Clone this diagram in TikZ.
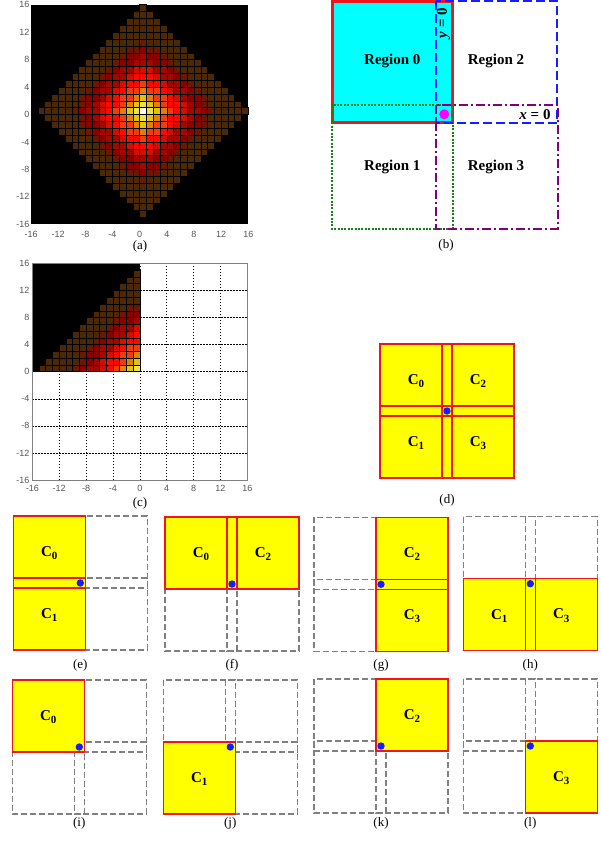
\documentclass[tikz,border=0pt]{standalone}
\usepackage{fontspec}
\setmainfont{Liberation Serif}
\newfontfamily\tickfont{Liberation Sans}
\definecolor{col0}{RGB}{255,255,255}
\definecolor{col1}{RGB}{234,226,72}
\definecolor{col2}{RGB}{226,194,16}
\definecolor{col3}{RGB}{226,128,0}
\definecolor{col4}{RGB}{240,60,16}
\definecolor{col5}{RGB}{255,8,0}
\definecolor{col6}{RGB}{208,16,0}
\definecolor{col7}{RGB}{160,8,0}
\definecolor{col8}{RGB}{140,0,0}
\definecolor{col9}{RGB}{106,24,4}
\definecolor{col10}{RGB}{74,40,8}
\definecolor{tickgray}{RGB}{85,85,85}
\definecolor{rcyan}{RGB}{0,255,255}
\definecolor{rred}{RGB}{240,20,30}
\definecolor{rblue}{RGB}{20,30,255}
\definecolor{rgreen}{RGB}{20,130,20}
\definecolor{rpurple}{RGB}{128,0,128}
\definecolor{rmag}{RGB}{255,0,255}
\definecolor{ryel}{RGB}{255,255,0}
\definecolor{rgray}{RGB}{128,128,128}
\tikzset{
  ticklab/.style={font=\tickfont\fontsize{9}{10}\selectfont, text=tickgray, inner sep=0pt},
  capt/.style={font=\fontsize{13}{15}\selectfont, inner sep=0pt},
  reglab/.style={font=\bfseries\fontsize{15}{17}\selectfont, inner sep=0pt},
  clab/.style={font=\bfseries\fontsize{15}{17}\selectfont, inner sep=0pt},
  gsq/.style={draw=rgray, line width=1.4pt, dash pattern=on 6pt off 3pt},
  rsq/.style={draw=rred, line width=1.3pt},
  cyel/.style={fill=ryel},
  bdot/.style={fill=rblue},
  cellb/.style={draw=black, line width=0.45pt},
}
\newcommand\csub[1]{\raisebox{-0.22em}{\fontsize{11}{12}\selectfont #1}}
% colour index of a cell from its offset (i,j) to the centre cell
\newcommand\cellidx[2]{%
  \pgfmathsetmacro\vv{0.4*sqrt((#1)*(#1)+(#2)*(#2))+0.6*(abs(#1)+abs(#2))}%
  \pgfmathtruncatemacro\d{(\vv>=0.5)+(\vv>=1.5)+(\vv>=2.5)+(\vv>=3.4)+(\vv>=4.6)+(\vv>=5.8)+(\vv>=7)+(\vv>=8.2)+(\vv>=9.4)+(\vv>=10.5)}%
}
\newcommand\quadpanel[5]{%
  \begin{scope}[shift={(#1pt,-#2pt)}]
    \foreach \c in {0,1,2,3}{%
      \pgfmathsetmacro\dx{62*(\c>1)}%
      \pgfmathsetmacro\dy{62*mod(\c,2)}%
      \draw[gsq] (\dx,\dy) rectangle ++(72,72);}
    \foreach \c in {#3}{%
      \pgfmathsetmacro\dx{62*(\c>1)}%
      \pgfmathsetmacro\dy{62*mod(\c,2)}%
      \fill[cyel] (\dx,\dy) rectangle ++(72,72);}
    \foreach \c in {#3}{%
      \pgfmathsetmacro\dx{62*(\c>1)}%
      \pgfmathsetmacro\dy{62*mod(\c,2)}%
      \draw[rsq] (\dx,\dy) rectangle ++(72,72);
      \node[clab] at (\dx+36,\dy+37) {C\csub{\c}};}
    \fill[bdot] (67,67) circle (3.7pt);
  \end{scope}
  \node[capt] (cap#4) at (#1+67,#5) {(#4)};
}
\begin{document}
\begin{tikzpicture}[x=1pt,y=-1pt]
\useasboundingbox (0,0) rectangle (600,841);
\fill[white] (0,0) rectangle (600,841);

% ---------- (a) ----------
\begin{scope}[shift={(139.65pt,-114.5pt)},x=6.79pt,y=6.8625pt]
  \fill[black] (-16,-16) rectangle (16,16);
  \foreach \i in {-15,...,15}{
    \pgfmathtruncatemacro\m{15-abs(\i)}
    \pgfmathtruncatemacro\mn{-\m}
    \foreach \j in {\mn,...,\m}{
      \cellidx{\i}{\j}
      \filldraw[cellb, fill=col\d] (\i,\j) rectangle ++(1,1);
    }
  }
\end{scope}
\foreach \v in {-16,-12,...,16}{
  \node[ticklab, anchor=east] at (29.5,{114.5-\v*6.8625}) {\v};
  \node[ticklab] at ({139.65+\v*6.79},234) {\v};
}
\node[capt] (capa) at (140,246) {(a)};

% ---------- (b) ----------
\fill[rcyan] (331.7,0) rectangle (452.7,122.7);
\draw[rred, line width=2.6pt] (332.3,1.2) rectangle (452.3,122.7);
\draw[rgreen, line width=2pt, dash pattern=on 2pt off 1.4pt] (331.7,105.3) rectangle (453.3,228.7);
\draw[rblue, line width=2.2pt, dash pattern=on 9pt off 4pt] (435.7,0.9) rectangle (557,122.7);
\draw[rpurple, line width=2.2pt, dash pattern=on 9pt off 3pt on 2pt off 3pt] (435.7,105.3) rectangle (557.7,228.7);
\fill[rmag] (444.3,114.3) circle (5pt);
\node[reglab] (r0) at (392.3,61) {Region 0};
\node[reglab] (r2) at (496,61) {Region 2};
\node[reglab] (r1) at (392.3,166.7) {Region 1};
\node[reglab] (r3) at (496,166.7) {Region 3};
\node[reglab, rotate=90] (ylab) at (443.5,23) {\textit{y} = 0};
\node[reglab] (xlab) at (535,115) {\textit{x} = 0};
\node[capt] (capb) at (446,245) {(b)};

% ---------- (c) ----------
\begin{scope}[shift={(139.8pt,-371.7pt)},x=6.72pt,y=6.77pt]
  \foreach \g in {-12,-8,...,12}{
    \draw[black, line width=0.5pt, dash pattern=on 1.5pt off 1.5pt] (\g,-16) -- (\g,16);
    \draw[black, line width=0.5pt, dash pattern=on 1.5pt off 1.5pt] (-16,\g) -- (16,\g);
  }
  \fill[black] (-16,0) rectangle (0,16);
  \foreach \a in {0,...,14}{
    \pgfmathtruncatemacro\bm{14-\a}
    \foreach \b in {0,...,\bm}{
      \cellidx{\a+1}{\b}
      \filldraw[cellb, fill=col\d] (-\a-1,\b) rectangle ++(1,1);
    }
  }
  \draw[rgray, line width=0.8pt] (-16,-16) rectangle (16,16);
\end{scope}
\foreach \v in {-16,-12,...,16}{
  \node[ticklab, anchor=east] at (29.5,{371.7-\v*6.77}) {\v};
  \node[ticklab] at ({139.8+\v*6.72},488) {\v};
}
\node[capt] (capc) at (140,503) {(c)};

% ---------- (d) - (l) ----------
\quadpanel{380}{344}{0,1,2,3}{d}{500}
\quadpanel{13.3}{516}{0,1}{e}{665}
\quadpanel{165}{517}{0,2}{f}{665}
\quadpanel{314}{517.3}{2,3}{g}{665}
\quadpanel{463.3}{516.7}{1,3}{h}{665}
\quadpanel{12.3}{680}{0}{i}{823}
\quadpanel{163.3}{680}{1}{j}{823}
\quadpanel{314}{679}{2}{k}{823}
\quadpanel{463.3}{679}{3}{l}{823}
\end{tikzpicture}
\end{document}
